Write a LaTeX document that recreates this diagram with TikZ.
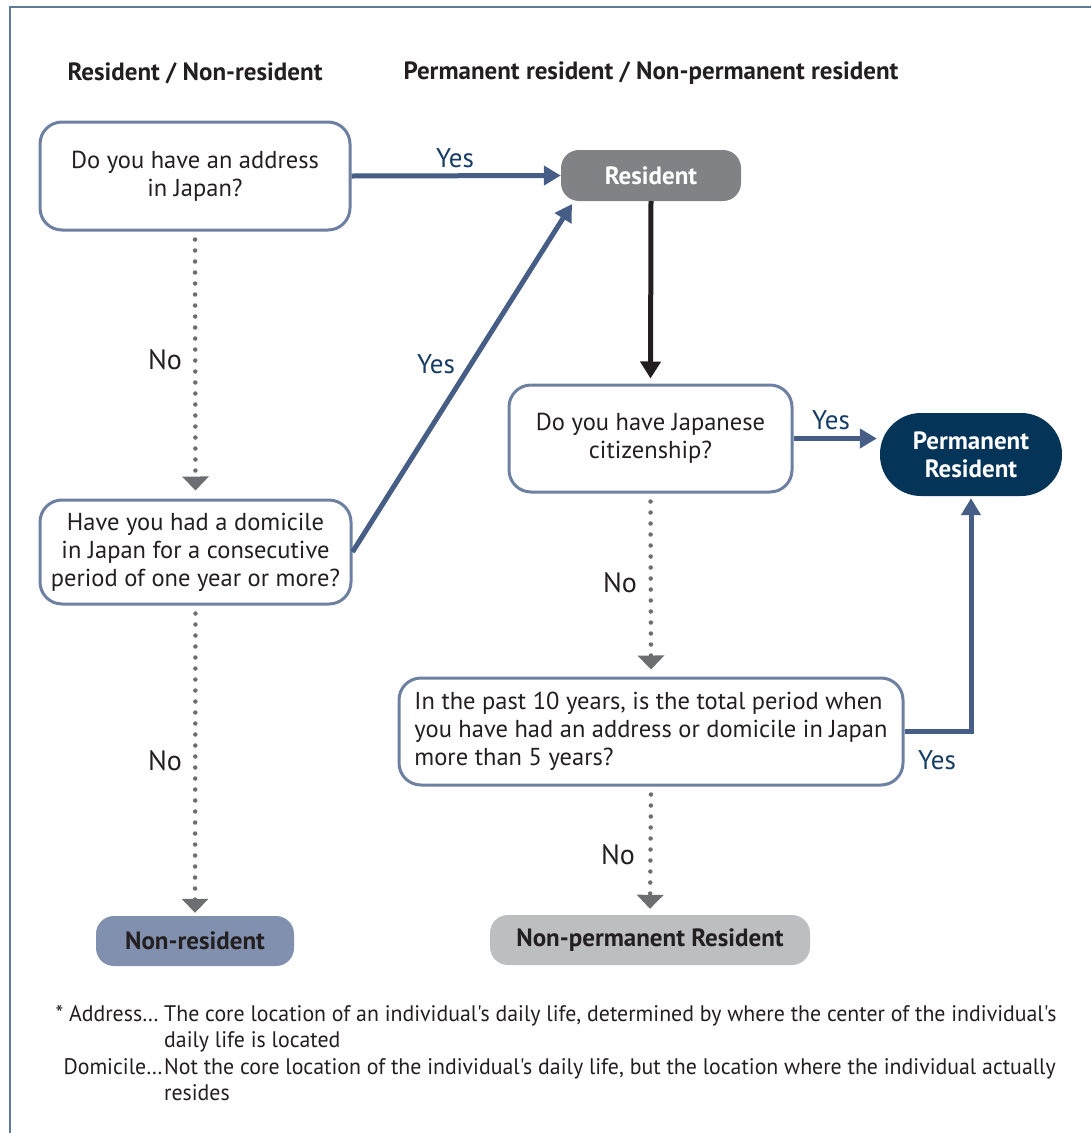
\documentclass[tikz,border=0pt]{standalone}
\usepackage{fontspec}
\setmainfont{PT Sans}
\newfontfamily\notefont[FakeStretch=0.97]{PT Sans}
\usetikzlibrary{arrows.meta}

\definecolor{framecol}{RGB}{93,124,153}
\definecolor{boxline}{RGB}{110,128,162}
\definecolor{flowblue}{RGB}{70,94,133}
\definecolor{yesblue}{RGB}{22,60,99}
\definecolor{inkdark}{RGB}{35,31,32}
\definecolor{dotgray}{RGB}{109,110,113}
\definecolor{resgray}{RGB}{128,130,133}
\definecolor{permnavy}{RGB}{5,52,89}
\definecolor{nonresblue}{RGB}{128,144,174}
\definecolor{nonpermgray}{RGB}{188,190,192}

\tikzset{
  question/.style={draw=boxline, line width=3pt, fill=white, rounded corners=22pt,
    align=center, text=inkdark, inner sep=0pt,
    font=\fontsize{24.5}{28}\selectfont},
  outcome/.style={rounded corners=18pt, inner sep=0pt, align=center,
    font=\bfseries\fontsize{25}{28}\selectfont},
  header/.style={font=\bfseries\fontsize{25}{28}\selectfont, text=inkdark},
  yeslabel/.style={font=\fontsize{27}{30}\selectfont, text=yesblue},
  nolabel/.style={font=\fontsize{28}{30}\selectfont, text=inkdark},
  yesflow/.style={draw=flowblue, line width=5pt,
    -{Triangle[length=17pt,width=19pt]}},
  mainflow/.style={draw=inkdark, line width=5pt,
    -{Triangle[length=17pt,width=20pt]}},
  noflow/.style={draw=dotgray, line width=4.5pt, line cap=round,
    dash pattern=on 0pt off 11pt,
    -{Triangle[length=14pt,width=26pt,fill=dotgray]}},
  notetext/.style={font=\notefont\fontsize{22.5}{26}\selectfont, text=inkdark,
    inner sep=0pt, anchor=base west}
}

\begin{document}
\begin{tikzpicture}[x=1pt,y=-1pt]
\useasboundingbox (0,0) rectangle (1091,1133);

% outer frame, open to the right and bottom
\draw[framecol, line width=2pt] (9.5,1140) -- (9.5,6.5) -- (1100,6.5);

% column headings
\node[header] (h1) at (195,73) {Resident / Non-resident};
\node[header] (h2) at (651,73) {Permanent resident / Non-permanent resident};

% questions
\node[question, minimum width=310pt, minimum height=108pt] (q1) at (195,176)
  {Do you have an address\\in Japan?};
\node[question, minimum width=311pt, minimum height=104pt] (q2) at (195.5,552)
  {Have you had a domicile\\in Japan for a consecutive\\period of one year or more?};
\node[question, minimum width=283pt, minimum height=107pt] (q3) at (650.5,438.5)
  {Do you have Japanese\\citizenship?};
\node[question, minimum width=504pt, minimum height=107pt, align=left] (q4) at (651,731.5)
  {In the past 10 years, is the total period when\\you have had an address or domicile in Japan\\more than 5 years?};

% outcomes
\node[outcome, fill=resgray, text=white, minimum width=180pt, minimum height=51pt] (res) at (651,175.5) {Resident};
\node[outcome, fill=permnavy, text=white, rounded corners=41pt, minimum width=182pt, minimum height=83pt] (perm) at (971,454.5) {Permanent\\Resident};
\node[outcome, fill=nonresblue, text=inkdark, minimum width=198pt, minimum height=50pt] (nonres) at (195,941) {Non-resident};
\node[outcome, fill=nonpermgray, text=inkdark, minimum width=320pt, minimum height=50pt] (nonperm) at (650,940) {Non-permanent Resident};

% yes branches
\coordinate (resfoot) at (572,204);
\draw[yesflow] (q1.east) -- (res.west);
\draw[yesflow] (q2.east) -- (resfoot);
\draw[yesflow, shorten >=3pt] (q3.east) -- (q3.east -| perm.west);
\draw[yesflow, shorten >=2pt] (q4.east) -| (perm.south);

\node[yeslabel] (y1) at (455,158) {Yes};
\node[yeslabel] (y2) at (436,364) {Yes};
\node[yeslabel] (y3) at (831,420) {Yes};
\node[yeslabel] (y4) at (937,760) {Yes};

% resident goes on to the citizenship question
\draw[mainflow, shorten >=5pt] (res.south) -- (q3.north);

% no branches
\draw[noflow, shorten <=8pt, shorten >=8pt] (q1.south) -- (q2.north);
\draw[noflow, shorten <=8pt, shorten >=3pt] (q2.south) -- (nonres.north);
\draw[noflow, shorten <=8pt, shorten >=7pt] (q3.south) -- (q4.north);
\draw[noflow, shorten <=8pt, shorten >=6pt] (q4.south) -- (nonperm.north);

\node[nolabel] (n1) at (165,360) {No};
\node[nolabel] (n2) at (165,761) {No};
\node[nolabel] (n3) at (620,583) {No};
\node[nolabel] (n4) at (618,855) {No};

% footnote
\node[notetext, anchor=base east] (a1) at (159,1021) {* Address\ldots};
\node[notetext] (a2) at (164,1021) {The core location of an individual's daily life, determined by where the center of the individual's};
\node[notetext] (a3) at (164,1047) {daily life is located};
\node[notetext, anchor=base east] (d1) at (163,1074) {Domicile\ldots};
\node[notetext] (d2) at (164,1074) {Not the core location of the individual's daily life, but the location where the individual actually};
\node[notetext] (d3) at (164,1100) {resides};
\end{tikzpicture}
\end{document}
